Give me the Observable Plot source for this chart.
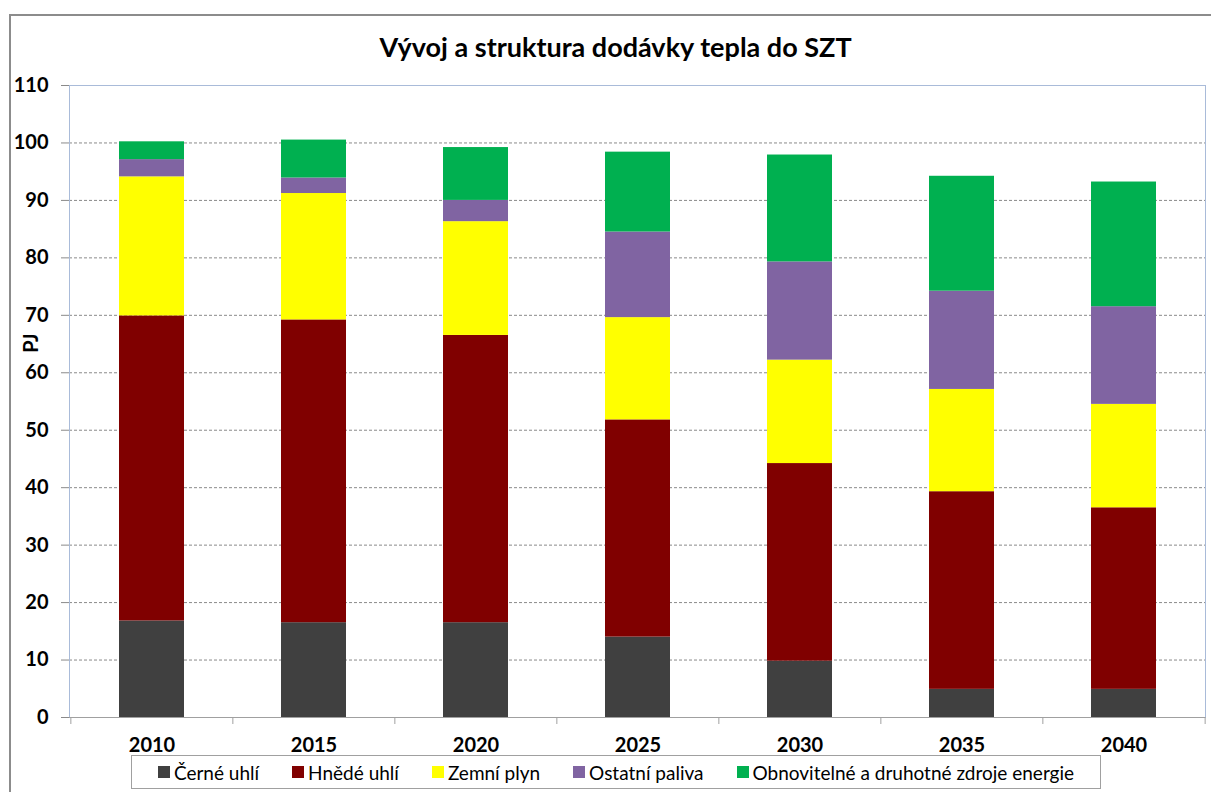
<!DOCTYPE html>
<html>
<head>
<meta charset="utf-8">
<script src="https://cdn.jsdelivr.net/npm/d3@7"></script>
<script src="https://cdn.jsdelivr.net/npm/@observablehq/plot@0.6"></script>
<style>
  html, body { margin: 0; padding: 0; background: #fff; overflow: hidden; }
  #wrap { position: relative; width: 1211px; height: 792px; font-family: Lato, "Open Sans", sans-serif; }
  #outer { position: absolute; left: 9px; top: 14px; width: 1400px; height: 1000px; border: 2px solid #8c8c8c; box-sizing: border-box; }
  #title { position: absolute; left: 10px; width: 1211px; top: 30px; text-align: center; font-weight: bold; font-size: 27px; color: #000; }
  #ylab { position: absolute; left: 30px; top: 343px; transform: translate(-50%, -50%) rotate(-90deg); font-weight: bold; font-size: 20px; }
  #chart { position: absolute; left: 0; top: 0; }
  #legend { position: absolute; left: 131px; top: 755px; width: 970px; height: 34px; border: 1px solid #a0a0a0; background: #fff; box-sizing: border-box;
            display: flex; align-items: center; justify-content: center; gap: 33px; font-size: 19px; }
  .item { display: flex; align-items: center; white-space: nowrap; }
  .sw { width: 12px; height: 12px; margin-right: 4px; }
</style>
</head>
<body>
<div id="wrap">
  <div id="outer"></div>
  <div id="chart"></div>
  <div id="title">Vývoj a struktura dodávky tepla do SZT</div>
  <div id="ylab">PJ</div>
  <div id="legend"></div>
</div>
<script>
const years = ["2010", "2015", "2020", "2025", "2030", "2035", "2040"];
const series = ["Černé uhlí", "Hnědé uhlí", "Zemní plyn", "Ostatní paliva", "Obnovitelné a druhotné zdroje energie"];
const colors = ["#404040", "#800000", "#FFFF00", "#8064A2", "#00B050"];
const cerneUhli   = [16.8, 16.5, 16.5, 14.0, 9.8, 4.9, 4.9];
const hnedeUhli   = [53.1, 52.7, 50.0, 37.8, 34.4, 34.4, 31.6];
const zemniPlyn   = [24.2, 22.0, 19.8, 17.8, 18.0, 17.8, 18.0];
const ostatni     = [3.0, 2.7, 3.7, 14.9, 17.1, 17.1, 17.0];
const obnovitelne = [3.1, 6.6, 9.2, 13.9, 18.6, 20.0, 21.7];
const yTicks = [0, 10, 20, 30, 40, 50, 60, 70, 80, 90, 100, 110];

const valuesBySeries = [cerneUhli, hnedeUhli, zemniPlyn, ostatni, obnovitelne];
const data = [];
series.forEach((s, si) => years.forEach((y, yi) => data.push({year: y, series: s, value: valuesBySeries[si][yi]})));

const W = 1211, H = 792, ML = 69, MR = 6, MT = 85, MB = 75;
const step = (W - ML - MR) / years.length;

const chart = Plot.plot({
  width: W, height: H,
  marginLeft: ML, marginRight: MR, marginTop: MT, marginBottom: MB,
  style: {fontFamily: "Lato, 'Open Sans', sans-serif", background: "transparent", color: "#000"},
  x: {type: "band", domain: years, paddingInner: 0.6, paddingOuter: 0.3, label: null},
  y: {domain: [0, 110], ticks: yTicks, label: null},
  color: {domain: series, range: colors},
  marks: [
    Plot.gridY(yTicks.filter(t => t > 0 && t < 110), {stroke: "#8a8a8a", strokeOpacity: 1, strokeDasharray: "3,2"}),
    Plot.frame({stroke: "#a9bbd9"}),
    Plot.barY(data, {x: "year", y: "value", fill: "series", order: series}),
    Plot.ruleY([0], {stroke: "#a0a0a0"}),
    Plot.ruleX(years, {x: d => d, y1: 0, y2: 0, insetBottom: -7, dx: -step / 2, stroke: "#a0a0a0"}),
    Plot.ruleX(years.slice(-1), {x: d => d, y1: 0, y2: 0, insetBottom: -7, dx: step / 2, stroke: "#a0a0a0"}),
    Plot.axisY({ticks: yTicks, tickSize: 8, tickPadding: 13, fontSize: 20, fontWeight: "bold", stroke: "#8a8a8a", label: null}),
    Plot.axisX({tickSize: 0, tickPadding: 20, fontSize: 20, fontWeight: "bold", label: null})
  ]
});
document.getElementById("chart").appendChild(chart);

const legend = document.getElementById("legend");
series.forEach((s, i) => {
  const item = document.createElement("div");
  item.className = "item";
  const sw = document.createElement("div");
  sw.className = "sw";
  sw.style.background = colors[i];
  const t = document.createElement("span");
  t.textContent = s;
  item.appendChild(sw); item.appendChild(t);
  legend.appendChild(item);
});
</script>
</body>
</html>
